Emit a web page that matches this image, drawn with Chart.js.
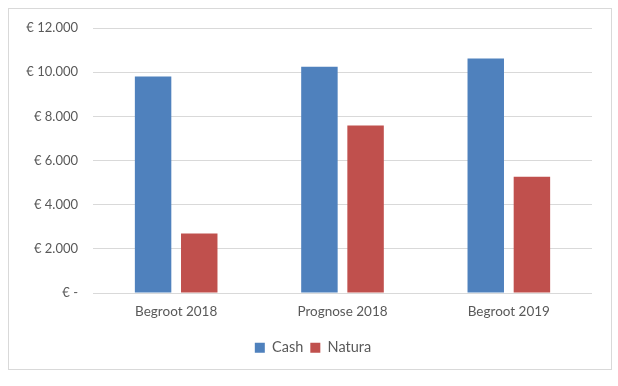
<!DOCTYPE html>
<html>
<head>
<meta charset="utf-8">
<script src="https://cdn.jsdelivr.net/npm/chart.js@4"></script>
<style>
  html, body { margin: 0; padding: 0; background: #fff; }
  #wrap { position: absolute; left: 8px; top: 8px; width: 602px; height: 360px; border: 1px solid #d9d9d9; }
</style>
</head>
<body>
<div id="wrap"><canvas id="chart" width="602" height="360"></canvas></div>
<script>
const categories = ["Begroot 2018", "Prognose 2018", "Begroot 2019"];
const cashValues = [9800, 10250, 10620];
const naturaValues = [2700, 7580, 5260];
const yTicks = [0, 2000, 4000, 6000, 8000, 10000, 12000];

function euro(v) {
  if (v === 0) return "€ -";
  return "€ " + v.toLocaleString("nl-NL");
}

Chart.defaults.font.family = "Lato, 'Open Sans', sans-serif";
Chart.defaults.font.size = 13;
Chart.defaults.color = "#595959";

new Chart(document.getElementById("chart"), {
  type: "bar",
  data: {
    labels: categories,
    datasets: [
      { label: "Cash", data: cashValues, backgroundColor: "#4f81bd", borderWidth: 0 },
      { label: "Natura", data: naturaValues, backgroundColor: "#c0504d", borderWidth: 0 }
    ]
  },
  options: {
    responsive: false,
    animation: false,
    layout: { padding: { top: 19, right: 7, left: 13, bottom: 4 } },
    datasets: { bar: { categoryPercentage: 0.555, barPercentage: 0.79 } },
    plugins: {
      legend: {
        position: "bottom",
        labels: { boxWidth: 10, boxHeight: 10, padding: 7, font: { size: 14.5 } }
      },
      tooltip: { enabled: false }
    },
    scales: {
      x: {
        afterFit: s => { s.height += 2.3; },
        grid: { display: false, drawTicks: false },
        border: { display: false },
        ticks: { padding: 11, font: { size: 13.5 } }
      },
      y: {
        min: 0,
        max: 12000,
        // fixed width, and no label overhang so layout.padding.top sets the plot top
        afterFit: s => { s.width = 71; s.paddingTop = 0; s.paddingBottom = 0; },
        afterBuildTicks: s => { s.ticks = yTicks.map(v => ({ value: v })); },
        grid: { color: "#d9d9d9", drawTicks: false },
        border: { display: false },
        ticks: { padding: 15, callback: v => euro(v) }
      },
      // empty right-hand spacer, keeps the legend centred on the whole box
      spacer: {
        type: "linear",
        position: "right",
        afterFit: s => { s.width = 12; s.paddingTop = 0; s.paddingBottom = 0; },
        grid: { display: false, drawTicks: false },
        border: { display: false },
        ticks: { display: false }
      }
    }
  }
});
</script>
</body>
</html>
